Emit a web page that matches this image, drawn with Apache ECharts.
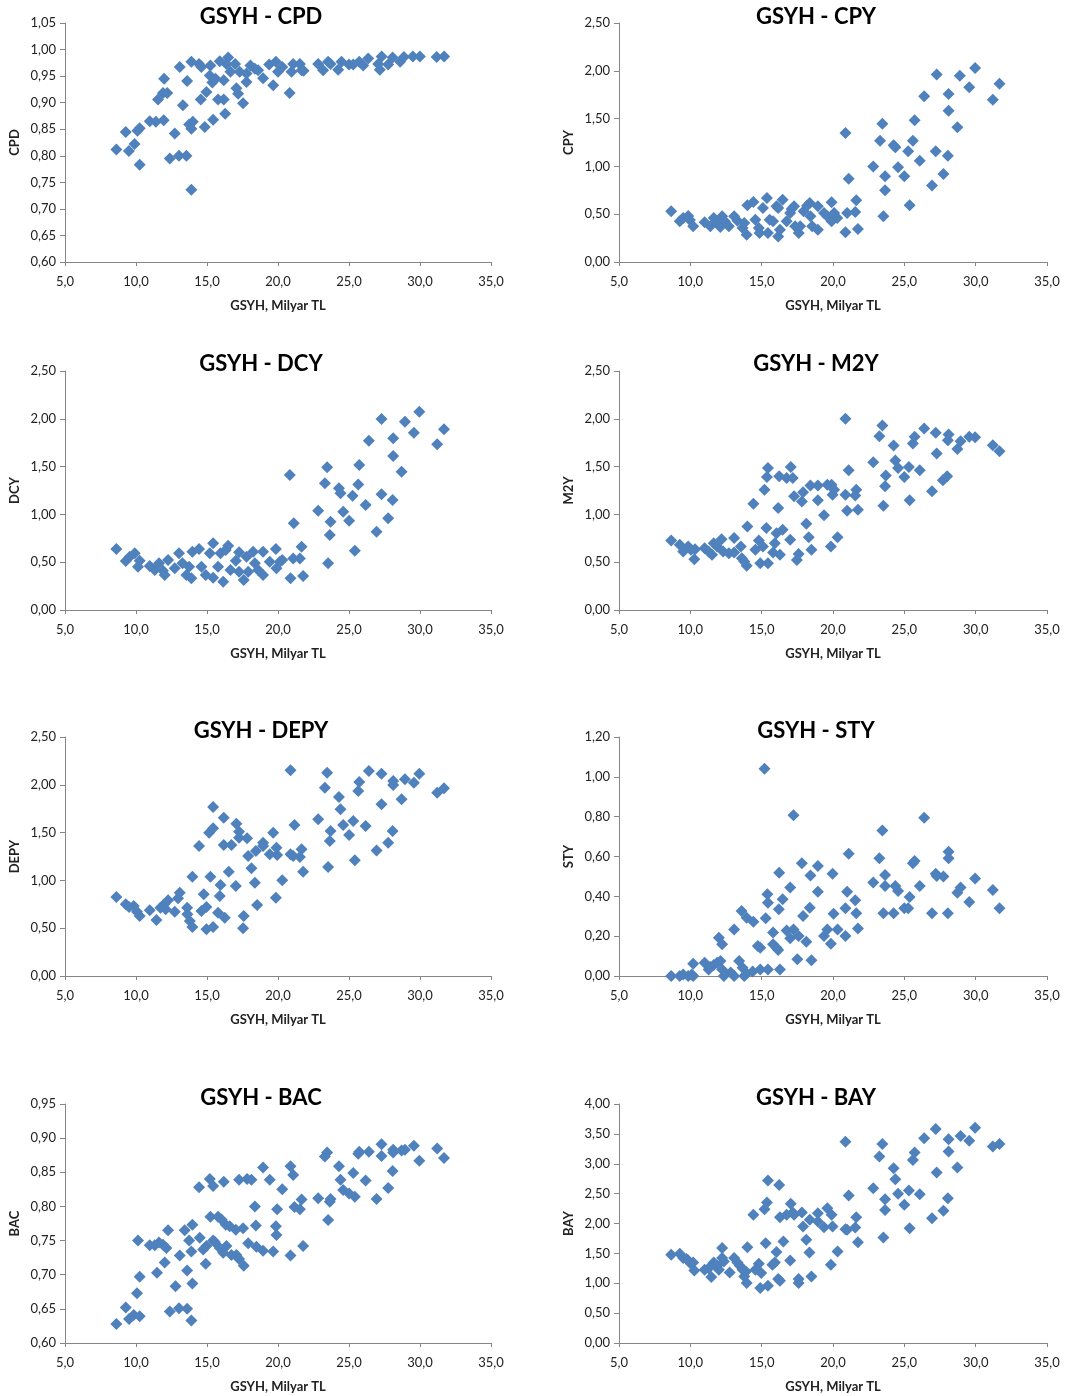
<!DOCTYPE html>
<html>
<head>
<meta charset="utf-8">
<title>GSYH scatter</title>
<script src="https://cdn.jsdelivr.net/npm/echarts@6/dist/echarts.min.js"></script>
<style>
  html, body { margin: 0; padding: 0; background: #fff; }
  #chart { width: 1070px; height: 1396px; }
</style>
</head>
<body>
<div id="chart"></div>
<script>
// values, [GSYH, ratio]
const cpdData = [
  [8.62,0.812],[9.28,0.845],[9.5,0.809],[9.9,0.822],[10.1,0.847],[10.26,0.852],[10.26,0.783],[10.97,0.865],
  [11.4,0.864],[11.55,0.906],[11.95,0.867],[11.9,0.918],[12.2,0.918],[11.98,0.945],[12.38,0.795],[12.73,0.842],
  [13.03,0.80],[13.08,0.967],[13.3,0.895],[13.55,0.80],[13.6,0.941],[13.9,0.736],[13.74,0.859],[13.9,0.851],
  [14.0,0.864],[13.9,0.977],[14.44,0.973],[14.6,0.967],[14.56,0.906],[14.84,0.854],[14.96,0.92],[15.24,0.97],
  [15.43,0.868],[15.38,0.938],[15.2,0.951],[15.6,0.945],[15.9,0.978],[15.78,0.906],[16.18,0.906],[16.18,0.942],
  [16.28,0.879],[16.49,0.985],[16.37,0.973],[16.65,0.958],[16.98,0.973],[17.07,0.927],[17.19,0.917],[17.54,0.899],
  [17.3,0.958],[17.78,0.939],[17.78,0.955],[18.06,0.970],[18.37,0.964],[18.6,0.961],[18.95,0.946],[19.38,0.972],
  [19.66,0.933],[19.85,0.977],[20.0,0.958],[20.3,0.967],[20.82,0.918],[20.95,0.958],[21.07,0.973],[21.54,0.973],
  [21.66,0.961],[21.8,0.96],[22.83,0.973],[23.18,0.961],[23.53,0.977],[23.7,0.973],[24.24,0.962],[24.47,0.977],
  [25.0,0.972],[25.3,0.972],[25.72,0.977],[26.0,0.97],[26.35,0.983],[27.06,0.973],[27.3,0.987],[27.17,0.962],
  [27.76,0.972],[28.07,0.985],[28.6,0.977],[28.87,0.986],[29.5,0.987],[29.99,0.987],[31.17,0.986],[31.7,0.987]
];
const cpyData = [
  [8.66,0.53],[9.26,0.425],[9.5,0.46],[9.85,0.48],[9.97,0.44],[10.2,0.373],[11.0,0.415],[11.4,0.373],
  [11.64,0.46],[11.88,0.415],[12.1,0.366],[12.23,0.478],[12.42,0.425],[12.7,0.373],[13.07,0.478],[13.3,0.432],
  [13.66,0.356],[13.78,0.408],[13.95,0.286],[14.0,0.593],[14.42,0.628],[14.56,0.443],[14.8,0.356],[14.85,0.303],
  [15.09,0.565],[15.37,0.67],[15.44,0.303],[15.56,0.443],[15.8,0.425],[16.04,0.582],[16.16,0.565],[16.16,0.268],
  [16.28,0.338],[16.47,0.652],[16.75,0.425],[17.0,0.513],[17.1,0.554],[17.27,0.582],[17.35,0.373],[17.6,0.303],
  [17.7,0.373],[17.94,0.53],[18.18,0.589],[18.37,0.617],[18.42,0.478],[18.54,0.373],[18.94,0.582],[18.94,0.338],
  [19.37,0.513],[19.6,0.478],[19.9,0.624],[19.9,0.425],[20.08,0.513],[20.3,0.46],[20.87,1.349],[20.87,0.31],
  [20.99,0.513],[21.1,0.872],[21.56,0.523],[21.63,0.645],[21.75,0.345],[22.82,1.0],[23.3,1.269],[23.46,1.447],
  [23.53,0.478],[23.65,0.896],[23.65,0.75],[24.25,1.22],[24.37,1.2],[24.56,0.99],[25.0,0.896],[25.27,1.158],
  [25.37,0.593],[25.6,1.269],[25.72,1.482],[26.08,1.06],[26.39,1.733],[26.94,0.8],[27.2,1.158],[27.27,1.96],
  [27.74,0.92],[28.05,1.112],[28.1,1.757],[28.1,1.583],[28.72,1.409],[28.89,1.949],[29.55,1.827],[29.96,2.03],
  [31.2,1.698],[31.67,1.865]
];
const dcyData = [
  [8.62,0.638],[9.28,0.513],[9.56,0.558],[9.91,0.593],[10.14,0.453],[10.26,0.516],[10.97,0.46],[11.32,0.418],
  [11.62,0.488],[11.9,0.411],[12.02,0.366],[12.26,0.523],[12.73,0.436],[13.03,0.593],[13.27,0.488],[13.55,0.366],
  [13.74,0.453],[13.9,0.331],[13.97,0.61],[14.44,0.638],[14.61,0.453],[14.91,0.366],[15.2,0.593],[15.43,0.697],
  [15.43,0.338],[15.78,0.453],[15.95,0.593],[16.14,0.296],[16.32,0.628],[16.49,0.673],[16.65,0.418],[17.03,0.516],
  [17.26,0.603],[17.26,0.401],[17.59,0.314],[17.78,0.558],[17.9,0.401],[18.25,0.61],[18.37,0.488],[18.6,0.418],
  [18.95,0.61],[18.95,0.366],[19.42,0.506],[19.85,0.638],[19.89,0.436],[20.13,0.506],[20.3,0.523],[20.83,1.412],
  [20.88,0.331],[21.07,0.54],[21.11,0.907],[21.54,0.54],[21.66,0.662],[21.77,0.356],[22.83,1.039],[23.3,1.325],
  [23.46,1.492],[23.53,0.488],[23.7,0.924],[23.65,0.785],[24.29,1.273],[24.4,1.22],[24.59,1.029],[25.01,0.934],
  [25.25,1.196],[25.41,0.621],[25.65,1.314],[25.72,1.517],[26.17,1.098],[26.4,1.771],[26.94,0.819],[27.29,1.21],
  [27.29,1.998],[27.76,0.959],[28.07,1.151],[28.11,1.796],[28.11,1.611],[28.7,1.447],[28.94,1.97],[29.57,1.855],
  [29.95,2.075],[31.21,1.733],[31.69,1.89]
];
const m2yData = [
  [8.66,0.727],[9.26,0.682],[9.5,0.612],[9.85,0.664],[10.04,0.629],[10.28,0.531],[10.33,0.636],[11.0,0.647],
  [11.28,0.612],[11.52,0.577],[11.64,0.699],[11.88,0.664],[12.19,0.741],[12.3,0.612],[12.7,0.594],[13.07,0.752],
  [13.07,0.601],[13.54,0.664],[13.61,0.542],[13.78,0.507],[13.95,0.462],[14.0,0.874],[14.42,1.112],[14.56,0.629],
  [14.8,0.727],[14.9,0.49],[15.09,0.664],[15.2,1.259],[15.33,0.857],[15.37,1.392],[15.44,1.486],[15.44,0.49],
  [15.8,0.601],[15.92,0.699],[16.04,0.804],[16.16,1.066],[16.23,1.399],[16.28,0.577],[16.47,0.839],[16.75,1.381],
  [17.0,0.734],[17.04,1.497],[17.18,1.381],[17.27,1.189],[17.47,0.524],[17.59,0.587],[17.82,1.136],[17.9,1.231],
  [18.13,0.902],[18.3,0.762],[18.42,1.301],[18.49,0.629],[18.94,1.301],[18.94,1.147],[19.37,0.99],[19.6,1.311],
  [19.85,0.664],[19.9,1.311],[19.97,1.206],[20.08,1.259],[20.32,0.762],[20.87,2.0],[20.87,1.206],[20.99,1.038],
  [21.1,1.462],[21.56,1.199],[21.63,1.259],[21.75,1.049],[22.82,1.545],[23.25,1.818],[23.46,1.93],[23.53,1.091],
  [23.65,1.294],[23.7,1.406],[24.25,1.72],[24.37,1.563],[24.56,1.486],[25.0,1.392],[25.32,1.497],[25.37,1.147],
  [25.6,1.741],[25.72,1.811],[26.08,1.462],[26.39,1.899],[26.94,1.241],[27.2,1.853],[27.27,1.636],[27.7,1.357],
  [28.0,1.399],[28.1,1.836],[28.05,1.776],[28.72,1.685],[28.94,1.766],[29.55,1.811],[29.96,1.808],[31.2,1.724],
  [31.67,1.661]
];
const depyData = [
  [8.62,0.826],[9.28,0.75],[9.51,0.722],[9.84,0.732],[10.07,0.673],[10.26,0.628],[10.97,0.687],[11.44,0.586],
  [11.72,0.715],[11.98,0.75],[12.26,0.792],[12.09,0.697],[12.73,0.673],[12.96,0.812],[13.08,0.872],[13.6,0.715],
  [13.62,0.645],[13.79,0.575],[13.97,0.513],[13.97,1.039],[14.44,1.36],[14.61,0.68],[14.77,0.854],[14.96,0.722],
  [14.96,0.488],[15.15,1.499],[15.24,1.039],[15.43,1.545],[15.43,1.768],[15.43,0.513],[15.78,0.662],[15.9,0.837],
  [15.95,0.952],[16.18,1.656],[16.18,1.37],[16.25,0.61],[16.53,1.091],[16.72,1.37],[17.03,0.941],[17.07,1.593],
  [17.26,1.51],[17.26,1.447],[17.59,0.628],[17.54,0.499],[17.82,1.44],[17.9,1.255],[18.13,1.126],[18.37,0.976],
  [18.44,1.307],[18.53,0.743],[18.95,1.395],[18.95,1.36],[19.42,1.273],[19.66,1.499],[19.85,0.819],[19.89,1.342],
  [19.94,1.266],[20.3,1.001],[20.88,2.151],[20.88,1.273],[21.07,1.255],[21.16,1.579],[21.54,1.245],[21.66,1.325],
  [21.77,1.091],[22.83,1.639],[23.3,1.97],[23.46,2.127],[23.53,1.14],[23.65,1.412],[23.7,1.517],[24.29,1.872],
  [24.4,1.743],[24.59,1.579],[25.01,1.475],[25.3,1.621],[25.41,1.21],[25.65,1.935],[25.72,2.029],[26.17,1.569],
  [26.4,2.144],[26.94,1.314],[27.29,2.116],[27.29,1.796],[27.76,1.395],[28.07,1.517],[28.11,2.04],[28.11,1.998],
  [28.7,1.848],[28.94,2.057],[29.57,2.022],[29.95,2.116],[31.21,1.918],[31.69,1.963]
];
const styData = [
  [8.66,0.0],[9.26,0.0],[9.5,0.008],[9.85,0.0],[10.2,0.062],[10.1,0.008],[10.2,0.0],[11.0,0.067],
  [11.28,0.033],[11.4,0.045],[11.64,0.055],[11.88,0.067],[12.0,0.192],[12.11,0.075],[12.23,0.159],[12.23,0.033],
  [12.35,0.0],[12.83,0.017],[13.07,0.234],[13.07,0.0],[13.42,0.075],[13.59,0.326],[13.66,0.042],[13.78,0.0],
  [13.95,0.293],[13.95,0.012],[14.42,0.273],[14.37,0.022],[14.73,0.151],[14.9,0.142],[14.9,0.033],[15.2,1.041],
  [15.28,0.29],[15.4,0.41],[15.44,0.368],[15.44,0.033],[15.8,0.218],[15.8,0.159],[16.04,0.142],[16.16,0.131],
  [16.2,0.335],[16.23,0.519],[16.28,0.033],[16.47,0.385],[16.75,0.229],[17.0,0.444],[17.0,0.189],[17.23,0.807],
  [17.23,0.234],[17.5,0.084],[17.59,0.201],[17.82,0.566],[17.9,0.301],[18.13,0.172],[18.37,0.343],[18.42,0.505],
  [18.49,0.079],[18.94,0.552],[18.94,0.423],[19.37,0.201],[19.6,0.234],[19.85,0.162],[19.97,0.514],[20.04,0.313],
  [20.32,0.234],[20.87,0.34],[20.87,0.201],[20.99,0.423],[21.1,0.614],[21.56,0.38],[21.63,0.315],[21.75,0.238],
  [22.82,0.469],[23.25,0.591],[23.46,0.731],[23.53,0.315],[23.65,0.507],[23.65,0.452],[24.25,0.315],[24.37,0.452],
  [24.56,0.427],[25.0,0.34],[25.27,0.34],[25.37,0.397],[25.6,0.566],[25.72,0.577],[26.08,0.452],[26.39,0.795],
  [26.94,0.315],[27.2,0.514],[27.27,0.502],[27.74,0.499],[28.05,0.315],[28.1,0.591],[28.1,0.624],[28.72,0.418],
  [28.94,0.444],[29.55,0.372],[29.96,0.489],[31.2,0.432],[31.67,0.34]
];
const bacData = [
  [8.62,0.628],[9.28,0.652],[9.51,0.635],[9.84,0.641],[10.07,0.673],[10.14,0.75],[10.26,0.697],[10.26,0.639],
  [10.97,0.743],[11.32,0.743],[11.48,0.703],[11.62,0.747],[11.9,0.744],[12.02,0.718],[12.14,0.739],[12.26,0.765],
  [12.38,0.646],[12.78,0.683],[13.03,0.651],[13.08,0.728],[13.43,0.765],[13.6,0.65],[13.6,0.706],[13.74,0.75],
  [13.9,0.633],[13.9,0.734],[13.97,0.687],[13.97,0.773],[14.44,0.828],[14.49,0.754],[14.73,0.737],[14.91,0.716],
  [14.96,0.742],[15.2,0.84],[15.24,0.785],[15.43,0.83],[15.43,0.75],[15.55,0.748],[15.78,0.785],[15.9,0.739],
  [16.02,0.781],[16.14,0.732],[16.18,0.836],[16.32,0.773],[16.37,0.742],[16.6,0.771],[16.72,0.729],[17.03,0.766],
  [17.07,0.729],[17.26,0.839],[17.26,0.723],[17.54,0.768],[17.59,0.713],[17.82,0.84],[17.9,0.746],[18.13,0.839],
  [18.37,0.8],[18.44,0.772],[18.48,0.741],[18.95,0.857],[18.95,0.735],[19.42,0.839],[19.66,0.734],[19.85,0.771],
  [19.94,0.796],[19.89,0.758],[20.3,0.825],[20.88,0.859],[20.88,0.728],[21.07,0.846],[21.16,0.799],[21.54,0.796],
  [21.66,0.81],[21.77,0.742],[22.83,0.812],[23.3,0.873],[23.46,0.879],[23.53,0.78],[23.65,0.807],[23.7,0.811],
  [24.29,0.859],[24.4,0.839],[24.59,0.824],[25.01,0.819],[25.3,0.849],[25.41,0.814],[25.65,0.877],[25.72,0.88],
  [26.17,0.838],[26.4,0.88],[26.94,0.811],[27.29,0.891],[27.29,0.874],[27.76,0.827],[28.07,0.852],[28.11,0.883],
  [28.11,0.879],[28.7,0.882],[28.94,0.883],[29.57,0.889],[29.95,0.867],[31.21,0.885],[31.69,0.871]
];
const bayData = [
  [8.66,1.476],[9.26,1.493],[9.5,1.421],[9.73,1.404],[9.85,1.382],[10.04,1.326],[10.2,1.348],[10.28,1.214],
  [11.0,1.226],[11.28,1.253],[11.47,1.103],[11.64,1.348],[11.88,1.292],[12.0,1.226],[12.23,1.421],[12.23,1.588],
  [12.35,1.365],[12.76,1.181],[13.07,1.421],[13.3,1.348],[13.47,1.292],[13.66,1.226],[13.78,1.114],[13.95,1.003],
  [14.0,1.604],[13.9,1.198],[14.42,2.145],[14.56,1.226],[14.8,1.326],[14.9,0.919],[14.97,1.17],[15.2,2.24],
  [15.28,1.671],[15.37,2.351],[15.44,2.719],[15.44,0.958],[15.75,1.309],[15.92,1.348],[16.04,1.521],[16.16,1.07],
  [16.23,2.646],[16.28,1.042],[16.28,2.106],[16.52,1.699],[16.75,2.145],[17.0,1.382],[17.04,2.329],[17.18,2.184],
  [17.27,2.145],[17.59,1.07],[17.59,1.003],[17.82,2.184],[17.9,1.95],[18.13,1.727],[18.37,2.061],[18.35,1.515],
  [18.49,1.114],[18.94,2.173],[18.94,2.033],[19.37,1.939],[19.6,2.256],[19.85,1.309],[19.9,2.145],[19.97,1.95],
  [20.32,1.532],[20.87,3.37],[20.87,1.905],[20.99,1.894],[21.1,2.468],[21.56,1.933],[21.63,2.106],[21.75,1.688],
  [22.82,2.591],[23.25,3.12],[23.46,3.331],[23.53,1.766],[23.65,2.407],[23.65,2.228],[24.25,2.925],[24.37,2.741],
  [24.56,2.496],[25.0,2.312],[25.32,2.552],[25.37,1.922],[25.6,3.064],[25.72,3.187],[26.08,2.49],[26.39,3.426],
  [26.94,2.089],[27.2,3.582],[27.27,2.852],[27.74,2.212],[28.05,2.423],[28.1,3.409],[28.1,3.203],[28.72,2.936],
  [28.94,3.465],[29.55,3.387],[29.96,3.604],[31.2,3.287],[31.67,3.331]
];

const panelNames = ['CPD', 'CPY', 'DCY', 'M2Y', 'DEPY', 'STY', 'BAC', 'BAY'];
const panelData = [cpdData, cpyData, dcyData, m2yData, depyData, styData, bacData, bayData];
// y axis scale per panel: [min, max, interval]
const yScales = [
  [0.60, 1.05, 0.05], [0, 2.5, 0.5], [0, 2.5, 0.5], [0, 2.5, 0.5],
  [0, 2.5, 0.5], [0, 1.2, 0.2], [0.60, 0.95, 0.05], [0, 4, 0.5]
];
const xScale = [5, 35, 5];
const xName = 'GSYH, Milyar TL';

// layout (pixels)
const colLeft = [65, 619];
const colWidth = [426, 428];
const rowTop = [23, 371, 737, 1104];
const plotH = 239;
const titleTop = [1, 348, 715, 1082];
const titleCenter = [256, 811]; // title has 5px padding

const FONT = 'Lato, "Open Sans", sans-serif';
const axisGrey = '#868686';

const chart = echarts.init(document.getElementById('chart'));

const grids = [], xAxes = [], yAxes = [], titles = [], series = [];

panelNames.forEach((name, i) => {
  const col = i % 2;
  const row = Math.floor(i / 2);
  grids.push({
    left: colLeft[col],
    top: rowTop[row],
    width: colWidth[col],
    height: plotH,
    containLabel: false
  });
  titles.push({
    text: 'GSYH - ' + name,
    left: titleCenter[col],
    top: titleTop[row],
    textAlign: 'center',
    textStyle: { fontFamily: FONT, fontWeight: 'bold', fontSize: 22, color: '#000' }
  });
  xAxes.push({
    type: 'value',
    gridIndex: i,
    min: xScale[0],
    max: xScale[1],
    interval: xScale[2],
    name: xName,
    nameLocation: 'middle',
    nameGap: 37,
    nameTextStyle: { fontFamily: FONT, fontWeight: 'bold', fontSize: 13, color: '#222' },
    axisLine: { onZero: false, lineStyle: { color: axisGrey, width: 1 } },
    axisTick: { show: true, length: 4, lineStyle: { color: axisGrey } },
    axisLabel: {
      margin: 13,
      fontFamily: FONT,
      fontSize: 13,
      color: '#222',
      formatter: v => v.toFixed(1).replace('.', ',')
    },
    splitLine: { show: false }
  });
  const ys = yScales[i];
  yAxes.push({
    type: 'value',
    gridIndex: i,
    min: ys[0],
    max: ys[1],
    interval: ys[2],
    name: name,
    nameLocation: 'middle',
    nameRotate: 90,
    nameGap: 44,
    nameTextStyle: { fontFamily: FONT, fontWeight: 'bold', fontSize: 13, color: '#222' },
    axisLine: { show: true, lineStyle: { color: axisGrey, width: 1 } },
    axisTick: { show: true, length: 5, lineStyle: { color: axisGrey } },
    axisLabel: {
      margin: 9,
      fontFamily: FONT,
      fontSize: 13,
      color: '#222',
      formatter: v => v.toFixed(2).replace('.', ',')
    },
    splitLine: { show: false }
  });
  series.push({
    type: 'scatter',
    xAxisIndex: i,
    yAxisIndex: i,
    symbol: 'diamond',
    symbolSize: 12,
    itemStyle: { color: '#4F81BD', opacity: 1 },
    data: panelData[i]
  });
});

chart.setOption({
  animation: false,
  backgroundColor: '#fff',
  title: titles,
  grid: grids,
  xAxis: xAxes,
  yAxis: yAxes,
  series: series
});
</script>
</body>
</html>
